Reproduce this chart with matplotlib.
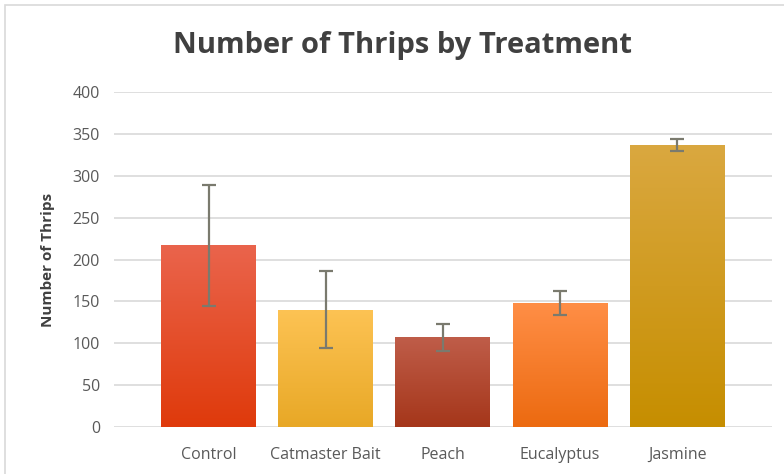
import numpy as np
import matplotlib
matplotlib.use("Agg")
import matplotlib.pyplot as plt
from matplotlib.colors import LinearSegmentedColormap
from matplotlib.patches import Rectangle

# data
treatments = ["Control", "Catmaster Bait", "Peach", "Eucalyptus", "Jasmine"]
thrips = [217, 140, 107, 148, 337]
errors = [72, 46, 16, 14, 7]
top_colors = ["#EA644C", "#FDC354", "#BF5D49", "#FF8E46", "#DAA840"]
bottom_colors = ["#DF3A0B", "#E8A826", "#A5361A", "#EC6A10", "#C68E00"]

plt.rcParams['font.family'] = ['Open Sans', 'DejaVu Sans']

fig = plt.figure(figsize=(7.84, 4.74), dpi=100)
fig.patches.append(Rectangle((5/784, -0.1), 1.2, 1.1 - 5/474, transform=fig.transFigure,
                             fill=False, edgecolor="#D9D9D9", linewidth=1.2))
ax = fig.add_axes([0.1454, 0.099, 0.8393, 0.707])

x = np.arange(len(treatments))
width = 0.81
bars = ax.bar(x, thrips, width=width, color="none", zorder=2)
for b, c0, c1 in zip(bars, top_colors, bottom_colors):
    cmap = LinearSegmentedColormap.from_list("g", [c1, c0])
    grad = np.linspace(0, 1, 256).reshape(-1, 1)
    x0, y0 = b.get_x(), b.get_y()
    im = ax.imshow(grad, cmap=cmap, origin="lower", aspect="auto",
                   extent=[x0, x0 + b.get_width(), y0, y0 + b.get_height()], zorder=2)
    im.set_clip_path(b)

ax.errorbar(x, thrips, yerr=errors, fmt="none", ecolor="#7A7A6E", elinewidth=1.6,
            capsize=5, capthick=1.6, zorder=3)

ax.set_xlim(-0.807, 4.81)
ax.set_ylim(0, 400)
ax.set_yticks(range(0, 401, 50))
ax.yaxis.grid(True, color="#D9D9D9", linewidth=1.2, zorder=0)
ax.set_axisbelow(True)
for s in ax.spines.values():
    s.set_visible(False)
ax.tick_params(length=0, colors="#595959", labelsize=11.5)
ax.tick_params(axis="y", pad=10)
ax.tick_params(axis="x", pad=14)
ax.set_xticks(x)
ax.set_xticklabels(treatments)
ax.set_ylabel("Number of Thrips", fontsize=11, fontweight="bold", color="#404040", labelpad=13)

fig.text(0.513, 0.905, "Number of Thrips by Treatment", ha="center", va="center",
         fontsize=21, fontweight="bold", color="#404040")

fig.savefig("out.png", dpi=100)
